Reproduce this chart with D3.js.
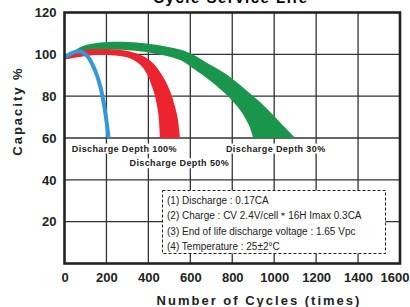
<!DOCTYPE html>
<html>
<head>
<meta charset="utf-8">
<script src="https://cdn.jsdelivr.net/npm/d3@7/dist/d3.min.js"></script>
<style>
  body { margin: 0; background: #fff; }
  svg { display: block; font-family: "Liberation Sans", Arial, sans-serif; }
</style>
</head>
<body>
<svg width="410" height="307"></svg>
<script>
// ticks
var xTicks = [0, 200, 400, 600, 800, 1000, 1200, 1400, 1600];
var yTicks = [20, 40, 60, 80, 100, 120];

// bands: [cycles, capacity %]
var green30Upper = [[0, 98.3], [80, 103.6], [170, 105.6], [300, 105.9], [408, 104.9], [550, 102.3], [600, 100.5], [670, 96.5], [765, 90.9], [861, 83.3], [956, 75], [1051, 65.1], [1100, 60]];
var green30Lower = [[0, 97.8], [100, 101], [200, 102], [300, 102], [408, 100.8], [551, 97.3], [610, 93.5], [670, 89.3], [765, 81.4], [837, 73.4], [880, 66], [900, 60]];
var red50Upper = [[0, 99], [80, 101.8], [170, 102.4], [312, 101.3], [408, 97], [487, 86.2], [535, 71.8], [551, 60]];
var red50Lower = [[0, 97.4], [100, 99.2], [169, 99.7], [312, 98.1], [376, 93.3], [423, 82.9], [447, 71.8], [455, 60]];
var blue100 = [[0, 98.3], [40, 100.8], [75, 101.4], [110, 99], [145, 92.5], [170, 85], [190, 75], [203, 66], [210, 60]];

var depthLabels = [
    {text: "Discharge Depth 100%", cycle: 35, cap: 55},
    {text: "Discharge Depth 50%", cycle: 310, cap: 48},
    {text: "Discharge Depth 30%", cycle: 770, cap: 55}
];

var notes = [
    "(1) Discharge : 0.17CA",
    "(2) Charge : CV 2.4V/cell\uFF0A16H Imax 0.3CA",
    "(3) End of life discharge voltage : 1.65 Vpc",
    "(4) Temperature : 25\u00B12\u00B0C"
];

var svg = d3.select("svg");

var x = d3.scaleLinear().domain([0, 1600]).range([64.5, 400]);
var y = d3.scaleLinear().domain([0, 120]).range([263.5, 12.5]);

// title, mostly cut off by the top edge
svg.append("text")
    .attr("x", 231).attr("y", 3)
    .attr("text-anchor", "middle")
    .attr("font-weight", "bold")
    .attr("font-size", 15)
    .attr("letter-spacing", 1.5)
    .text("Cycle Service Life");

// grid
var grid = svg.append("g").attr("stroke", "#333").attr("stroke-width", 1.3);
grid.selectAll("line.v")
    .data(xTicks.slice(1, -1))
    .enter().append("line")
    .attr("x1", function(d) { return x(d); })
    .attr("x2", function(d) { return x(d); })
    .attr("y1", y(0)).attr("y2", y(120));
grid.selectAll("line.h")
    .data(yTicks.slice(0, -1))
    .enter().append("line")
    .attr("x1", x(0)).attr("x2", x(1600))
    .attr("y1", function(d) { return y(d); })
    .attr("y2", function(d) { return y(d); });

var line = d3.line()
    .x(function(d) { return x(d[0]); })
    .y(function(d) { return y(d[1]); })
    .curve(d3.curveCatmullRom.alpha(0.5));

function band(upper, lower) {
    var back = line(lower.slice().reverse());
    return line(upper) + "L" + back.slice(1) + "Z";
}

svg.append("path").attr("d", band(green30Upper, green30Lower)).attr("fill", "#1a964c");
svg.append("path").attr("d", band(red50Upper, red50Lower)).attr("fill", "#ec2430");
svg.append("path").attr("d", line(blue100))
    .attr("fill", "none").attr("stroke", "#3497d8").attr("stroke-width", 4);

// depth labels with white backing
depthLabels.forEach(function(l) {
    var g = svg.append("g");
    var t = g.append("text")
        .attr("x", x(l.cycle)).attr("y", y(l.cap))
        .attr("dy", "0.35em")
        .attr("font-weight", "bold")
        .attr("font-size", 9)
        .attr("letter-spacing", 0.4)
        .attr("fill", "#222")
        .text(l.text);
    var b = t.node().getBBox();
    g.insert("rect", "text")
        .attr("x", b.x - 2).attr("y", b.y)
        .attr("width", b.width + 4).attr("height", b.height)
        .attr("fill", "#fff");
});

// notes box
var box = svg.append("g");
box.append("rect")
    .attr("x", 162.5).attr("y", 190.5)
    .attr("width", 223).attr("height", 63)
    .attr("fill", "#fff")
    .attr("stroke", "#222")
    .attr("stroke-width", 1)
    .attr("stroke-dasharray", "3,2");
box.selectAll("text")
    .data(notes)
    .enter().append("text")
    .attr("x", 167)
    .attr("y", function(d, i) { return 203.5 + i * 15.5; })
    .attr("font-size", 10)
    .attr("fill", "#222")
    .text(function(d) { return d; });

// frame
svg.append("rect")
    .attr("x", x(0)).attr("y", y(120))
    .attr("width", x(1600) - x(0)).attr("height", y(0) - y(120))
    .attr("fill", "none").attr("stroke", "#222").attr("stroke-width", 2.6);

// axes
var xAxis = svg.append("g")
    .attr("transform", "translate(0," + y(0) + ")")
    .call(d3.axisBottom(x).tickValues(xTicks).tickFormat(d3.format("d")).tickSize(0).tickPadding(9));
var yAxis = svg.append("g")
    .attr("transform", "translate(" + x(0) + ",0)")
    .call(d3.axisLeft(y).tickValues(yTicks).tickFormat(d3.format("d")).tickSize(0).tickPadding(8));
xAxis.select(".domain").remove();
yAxis.select(".domain").remove();
svg.selectAll(".tick text")
    .attr("font-family", "'Liberation Sans', Arial, sans-serif")
    .attr("font-size", 13)
    .attr("font-weight", "bold")
    .attr("fill", "#222");
xAxis.selectAll(".tick text")
    .filter(function(d) { return d === 1600; })
    .attr("text-anchor", "end")
    .attr("dx", 9);

svg.append("text")
    .attr("x", 259).attr("y", 305)
    .attr("text-anchor", "middle")
    .attr("font-weight", "bold")
    .attr("font-size", 13)
    .attr("letter-spacing", 2)
    .attr("fill", "#222")
    .text("Number of Cycles (times)");

svg.append("text")
    .attr("transform", "translate(22,111) rotate(-90)")
    .attr("text-anchor", "middle")
    .attr("font-weight", "bold")
    .attr("font-size", 13)
    .attr("letter-spacing", 2)
    .attr("fill", "#222")
    .text("Capacity %");
</script>
</body>
</html>
